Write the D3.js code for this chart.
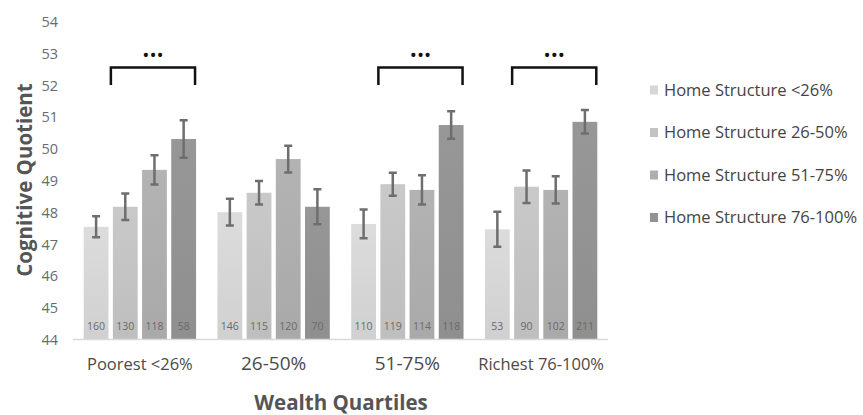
<!DOCTYPE html>
<html lang="en">
    <head>
        <meta charset="utf-8">
        <title>Cognitive Quotient by Wealth Quartile</title>
        <script type="text/javascript" src="https://cdn.jsdelivr.net/npm/d3@7"></script>
        <style type="text/css">
            body { margin: 0; background: #fff; }
            text { font-family: "Open Sans", "Noto Sans", sans-serif; }
        </style>
    </head>
    <body>
        <script type="text/javascript">
            var w = 863;
            var h = 415;

            // data
            var quartiles = ["Poorest <26%", "26-50%", "51-75%", "Richest 76-100%"];
            var series = ["Home Structure <26%", "Home Structure 26-50%",
                          "Home Structure 51-75%", "Home Structure 76-100%"];
            var means = [
                [47.56, 48.19, 49.35, 50.32],
                [48.02, 48.63, 49.69, 48.19],
                [47.65, 48.90, 48.72, 50.76],
                [47.48, 48.82, 48.72, 50.86]
            ];
            var errors = [
                [0.33, 0.42, 0.46, 0.59],
                [0.42, 0.37, 0.42, 0.55],
                [0.45, 0.36, 0.46, 0.43],
                [0.55, 0.51, 0.43, 0.37]
            ];
            var counts = [
                [160, 130, 118, 58],
                [146, 115, 120, 70],
                [110, 119, 114, 118],
                [53, 90, 102, 211]
            ];
            var significant = ["Poorest <26%", "51-75%", "Richest 76-100%"];
            var yTicks = [44, 45, 46, 47, 48, 49, 50, 51, 52, 53, 54];

            var colors = ["#d6d6d6", "#c3c3c3", "#aeaeae", "#939393"];

            var svg = d3.select("body")
                        .append("svg")
                        .attr("width", w)
                        .attr("height", h);

            // soft vertical gradients like the office chart
            var defs = svg.append("defs");
            colors.forEach(function(c, i) {
                var g = defs.append("linearGradient")
                    .attr("id", "grad" + i)
                    .attr("x1", 0).attr("y1", 0).attr("x2", 0).attr("y2", 1);
                g.append("stop").attr("offset", "0%").attr("stop-color", d3.color(c).brighter(0.08));
                g.append("stop").attr("offset", "100%").attr("stop-color", d3.color(c).darker(0.08));
            });

            var x0 = d3.scaleBand()
                .domain(quartiles)
                .range([73, 608])
                .paddingInner(0.16)
                .paddingOuter(0.08);
            var x1 = d3.scaleBand()
                .domain(d3.range(series.length))
                .range([0, x0.bandwidth()])
                .paddingInner(0.15);
            var y = d3.scaleLinear()
                .domain([44, 54])
                .range([340, 22]);

            // y tick labels
            svg.append("g").selectAll("text")
                .data(yTicks)
                .enter()
                .append("text")
                .attr("x", 58)
                .attr("y", function(d) { return y(d); })
                .attr("dy", "0.35em")
                .attr("text-anchor", "end")
                .attr("font-size", 14.5)
                .attr("fill", "#6a6a6a")
                .text(function(d) { return d; });

            var cells = [];
            quartiles.forEach(function(q, i) {
                series.forEach(function(s, j) {
                    cells.push({ q: q, s: j, val: means[i][j], err: errors[i][j], n: counts[i][j] });
                });
            });

            function bx(d) { return x0(d.q) + x1(d.s); }

            svg.append("g").selectAll("rect")
                .data(cells)
                .enter()
                .append("rect")
                .attr("x", bx)
                .attr("y", function(d) { return y(d.val); })
                .attr("width", x1.bandwidth())
                .attr("height", function(d) { return y(44) - y(d.val); })
                .attr("fill", function(d) { return "url(#grad" + d.s + ")"; });

            // baseline
            svg.append("line")
                .attr("x1", 73).attr("x2", 608)
                .attr("y1", y(44) - 0.5).attr("y2", y(44) - 0.5)
                .attr("stroke", "#d9d9d9")
                .attr("stroke-width", 1.5);

            // counts inside bars
            svg.append("g").selectAll("text")
                .data(cells)
                .enter()
                .append("text")
                .attr("x", function(d) { return bx(d) + x1.bandwidth() / 2; })
                .attr("y", 326)
                .attr("dy", "0.35em")
                .attr("text-anchor", "middle")
                .attr("font-size", 10.5)
                .attr("fill", "#6a6a6a")
                .text(function(d) { return d.n; });

            // error bars
            var eb = svg.append("g")
                .attr("stroke", "#6e6e6e")
                .attr("stroke-width", 2.5)
                .attr("fill", "none");
            cells.forEach(function(d) {
                var cx = bx(d) + x1.bandwidth() / 2;
                var top = y(d.val + d.err), bot = y(d.val - d.err);
                eb.append("path")
                    .attr("d", "M" + (cx - 4) + "," + top + "H" + (cx + 4) +
                               "M" + cx + "," + top + "V" + bot +
                               "M" + (cx - 4) + "," + bot + "H" + (cx + 4));
            });

            // significance brackets
            var br = svg.append("g");
            significant.forEach(function(q) {
                var left = x0(q) + x1(1) - 2;
                var right = x0(q) + x1(3) + x1.bandwidth() - 1;
                br.append("path")
                    .attr("d", "M" + left + ",85V67.5H" + right + "V85")
                    .attr("fill", "none")
                    .attr("stroke", "#111")
                    .attr("stroke-width", 2.5);
                br.append("text")
                    .attr("x", (left + right) / 2)
                    .attr("y", 62)
                    .attr("text-anchor", "middle")
                    .attr("font-size", 19)
                    .attr("fill", "#111")
                    .text("\u2022\u2022\u2022");
            });

            // category labels
            svg.append("g").selectAll("text")
                .data(quartiles)
                .enter()
                .append("text")
                .attr("x", function(d) { return x0(d) + x0.bandwidth() / 2; })
                .attr("y", 370)
                .attr("text-anchor", "middle")
                .attr("font-size", function(d, i) { return (i == 1 || i == 2) ? 19 : 16.5; })
                .attr("fill", "#4a4a4a")
                .text(function(d) { return d; });

            // axis titles
            svg.append("text")
                .attr("x", 341)
                .attr("y", 410)
                .attr("text-anchor", "middle")
                .attr("font-size", 20.5)
                .attr("font-weight", "bold")
                .attr("fill", "#555")
                .text("Wealth Quartiles");
            svg.append("text")
                .attr("transform", "translate(32,180) rotate(-90)")
                .attr("text-anchor", "middle")
                .attr("font-size", 20.5)
                .attr("font-weight", "bold")
                .attr("fill", "#555")
                .text("Cognitive Quotient");

            // legend
            var legend = svg.append("g").selectAll("g")
                .data(series)
                .enter()
                .append("g")
                .attr("transform", function(d, i) { return "translate(650," + (90 + i * 42.5) + ")"; });
            legend.append("rect")
                .attr("x", 0).attr("y", -4.5)
                .attr("width", 8).attr("height", 9)
                .attr("fill", function(d, i) { return colors[i]; });
            legend.append("text")
                .attr("x", 14)
                .attr("dy", "0.35em")
                .attr("font-size", 16.5)
                .attr("fill", "#444")
                .text(function(d) { return d; });
        </script>
    </body>
</html>
